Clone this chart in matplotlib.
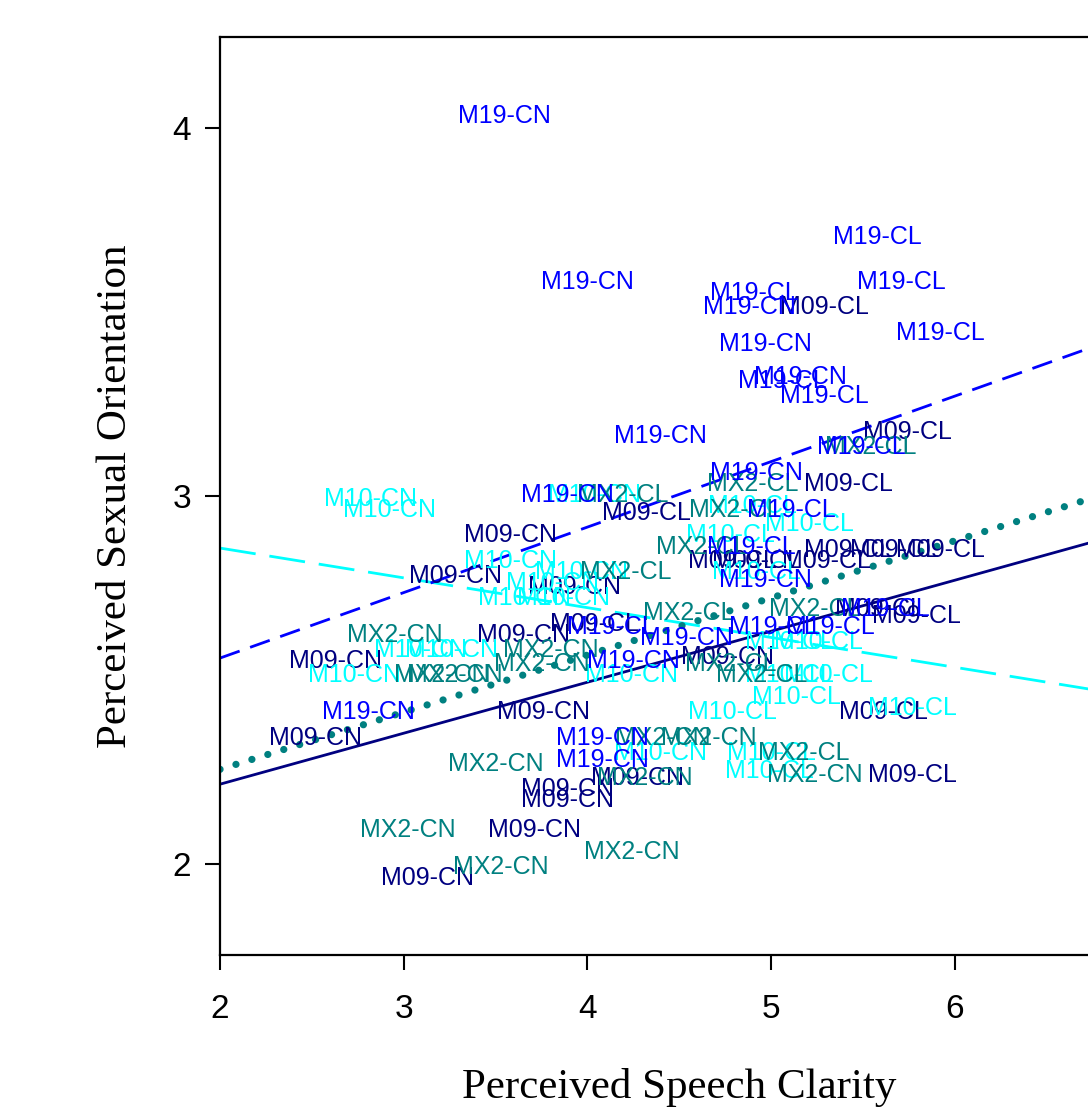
import matplotlib
matplotlib.use("Agg")
import matplotlib.pyplot as plt
import numpy as np

# group label points: x = speech clarity, y = sexual orientation, cond = CN/CL
m19_x = [3.55, 4.00, 5.58, 5.71, 4.91, 4.88, 5.92, 4.97, 5.06, 5.16, 5.29, 4.40, 5.49,
         3.89, 4.92, 5.11, 4.89, 4.97, 4.13, 4.54, 4.25, 2.81, 4.08, 4.08, 5.01, 5.32, 5.62]
m19_y = [4.04, 3.59, 3.71, 3.59, 3.56, 3.52, 3.45, 3.42, 3.32, 3.33, 3.28, 3.17, 3.14,
         3.01, 3.07, 2.97, 2.87, 2.78, 2.65, 2.62, 2.56, 2.42, 2.35, 2.29, 2.65, 2.65, 2.70]
m19_cond = ["CN", "CN", "CL", "CL", "CL", "CN", "CL", "CN", "CL", "CN", "CL", "CN", "CL",
            "CN", "CN", "CL", "CL", "CN", "CL", "CN", "CN", "CN", "CN", "CN", "CL", "CL", "CL"]

m09_x = [5.29, 5.74, 4.32, 5.42, 4.79, 4.92, 5.30, 5.42, 5.67, 5.92, 3.58, 3.28, 3.93, 3.65,
         4.04, 4.76, 2.63, 3.76, 2.52, 3.89, 3.89, 3.71, 3.13, 4.27, 5.59, 5.79, 5.61, 5.77]
m09_y = [3.52, 3.18, 2.96, 3.04, 2.83, 2.83, 2.83, 2.86, 2.86, 2.86, 2.90, 2.79, 2.76, 2.63,
         2.66, 2.57, 2.56, 2.42, 2.35, 2.21, 2.18, 2.10, 1.97, 2.24, 2.70, 2.68, 2.42, 2.25]
m09_cond = ["CL", "CL", "CL", "CL", "CL", "CL", "CL", "CL", "CL", "CL", "CN", "CN", "CN", "CN",
            "CL", "CN", "CN", "CN", "CN", "CN", "CN", "CN", "CN", "CN", "CL", "CL", "CL", "CL"]

m10_x = [2.82, 2.92, 4.04, 4.90, 5.21, 4.78, 4.92, 3.58, 3.97, 3.81, 3.66, 3.87, 3.09, 3.26,
         2.73, 4.24, 5.10, 5.26, 5.10, 5.31, 4.79, 5.14, 5.77, 4.40, 5.00, 4.99]
m10_y = [3.00, 2.97, 3.01, 2.98, 2.93, 2.90, 2.80, 2.83, 2.80, 2.77, 2.73, 2.73, 2.59, 2.59,
         2.52, 2.52, 2.61, 2.61, 2.52, 2.52, 2.42, 2.46, 2.43, 2.31, 2.31, 2.26]
m10_cond = ["CN", "CN", "CN", "CL", "CL", "CL", "CL", "CN", "CN", "CN", "CN", "CN", "CN", "CN",
            "CN", "CN", "CL", "CL", "CL", "CL", "CL", "CL", "CL", "CN", "CL", "CL"]

mx2_x = [4.19, 4.90, 4.80, 4.62, 5.54, 4.21, 4.55, 5.24, 4.95, 4.78, 3.80, 3.75, 2.95, 3.21,
         3.28, 3.50, 3.02, 3.53, 4.24, 4.41, 4.66, 4.31, 5.18, 5.24]
mx2_y = [3.01, 3.04, 2.97, 2.87, 3.14, 2.80, 2.69, 2.70, 2.52, 2.55, 2.59, 2.55, 2.63, 2.52,
         2.52, 2.28, 2.10, 2.00, 2.04, 2.35, 2.35, 2.24, 2.31, 2.25]
mx2_cond = ["CL", "CL", "CL", "CL", "CL", "CL", "CL", "CL", "CL", "CL", "CN", "CN", "CN", "CN",
            "CN", "CN", "CN", "CN", "CN", "CN", "CN", "CN", "CL", "CN"]

# regression lines per group (intercept, slope)
m19_fit = (2.204, 0.178)
m09_fit = (1.940, 0.1386)
m10_fit = (3.021, -0.081)
mx2_fit = (1.947, 0.1553)

x_ticks = [2, 3, 4, 5, 6]
y_ticks = [2, 3, 4]

groups = [
    ("M09", m09_x, m09_y, m09_cond, m09_fit, "#000080", "-", 2.0),
    ("M10", m10_x, m10_y, m10_cond, m10_fit, "#00FFFF", (0, (13, 5)), 2.0),
    ("MX2", mx2_x, mx2_y, mx2_cond, mx2_fit, "#008080", (0, (0.01, 2.3)), 5.2),
    ("M19", m19_x, m19_y, m19_cond, m19_fit, "#0000FF", (0, (7.5, 4)), 2.0),
]

fig = plt.figure(figsize=(10.88, 11.07), dpi=100)
ax = fig.add_axes([220 / 1088, 152 / 1107, 918 / 1088, 918 / 1107])
ax.set_xlim(2, 6.997)
ax.set_ylim(1.753, 4.248)

xx = np.array([2, 6.997])
for name, gx, gy, gc, fit, col, ls, lw in groups:
    for x, y, c in zip(gx, gy, gc):
        ax.text(x, y, name + "-" + c, color=col, fontsize=18, ha="center",
                va="center_baseline", family="Liberation Sans", clip_on=True)

for name, gx, gy, gc, fit, col, ls, lw in groups:
    ax.plot(xx, fit[0] + fit[1] * xx, color=col, linestyle=ls, linewidth=lw,
            dash_capstyle="round" if name == "MX2" else "butt")

ax.set_xticks(x_ticks)
ax.set_yticks(y_ticks)
ax.set_xticklabels([str(t) for t in x_ticks], family="Liberation Sans", fontsize=24)
ax.set_yticklabels([str(t) for t in y_ticks], family="Liberation Sans", fontsize=24)
ax.tick_params(direction="out", length=11, width=1.5)
ax.tick_params(axis="x", pad=17)
ax.tick_params(axis="y", pad=10)
for s in ax.spines.values():
    s.set_linewidth(1.6)

ax.set_xlabel("Perceived Speech Clarity", family="Liberation Serif", fontsize=31, labelpad=31)
ax.set_ylabel("Perceived Sexual Orientation", family="Liberation Serif", fontsize=31, labelpad=27)

fig.savefig("out.png", dpi=100)
